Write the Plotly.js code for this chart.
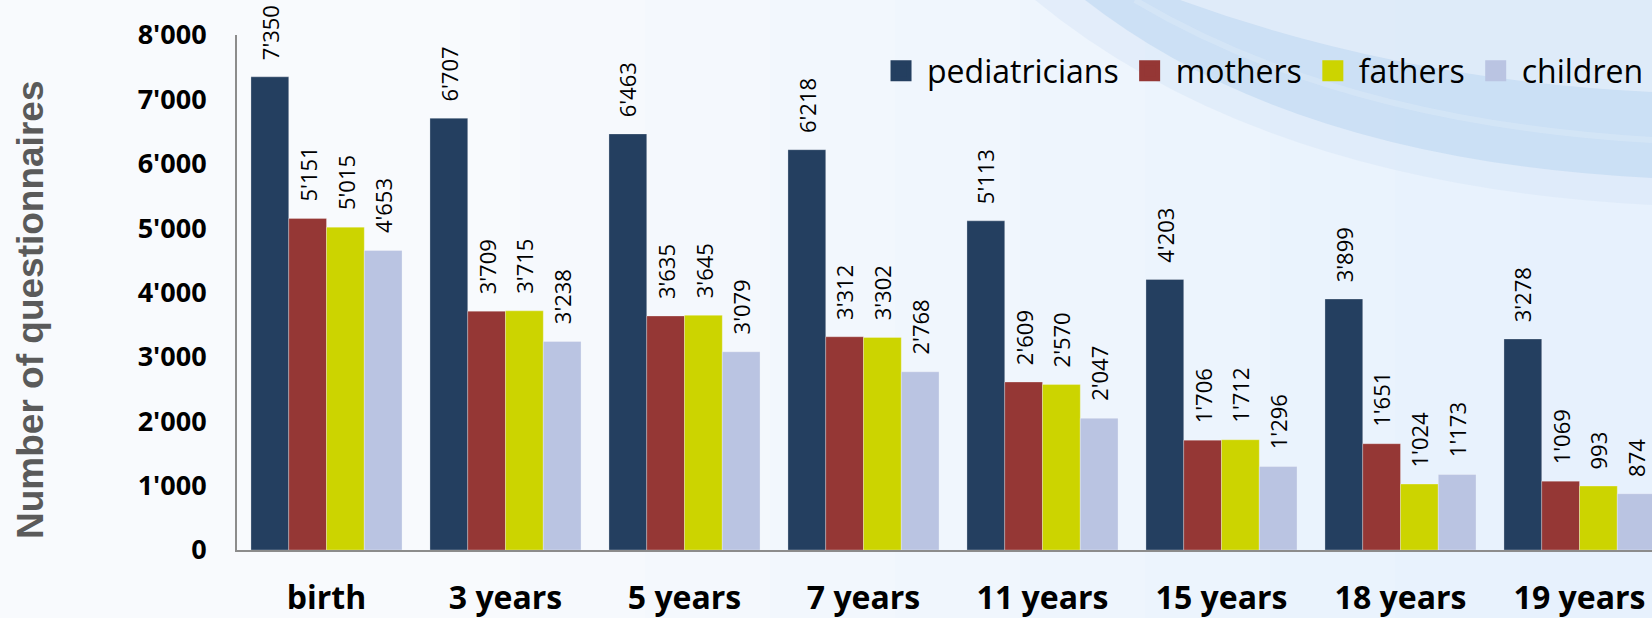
<!DOCTYPE html>
<html>
<head>
<meta charset="utf-8">
<script src="https://cdn.plot.ly/plotly-3.0.1.min.js"></script>
<style>
  html, body { margin: 0; padding: 0; background: #f8fafd; }
  #chart { width: 1652px; height: 618px; }
</style>
</head>
<body>
<div id="chart"></div>
<script>
// ---- Data ----
const categories = ["birth", "3 years", "5 years", "7 years", "11 years", "15 years", "18 years", "19 years"];
const seriesNames = ["pediatricians", "mothers", "fathers", "children"];
const pediatricians = [7350, 6707, 6463, 6218, 5113, 4203, 3899, 3278];
const mothers       = [5151, 3709, 3635, 3312, 2609, 1706, 1651, 1069];
const fathers       = [5015, 3715, 3645, 3302, 2570, 1712, 1024, 993];
const children      = [4653, 3238, 3079, 2768, 2047, 1296, 1173, 874];
const yTicks = [0, 1000, 2000, 3000, 4000, 5000, 6000, 7000, 8000];
const yTitle = "Number of questionnaires";

// ---- Styles ----
const colors = ["#243f60", "#953735", "#ccd400", "#bac4e2"];
const values = [pediatricians, mothers, fathers, children];

const W = 1652, H = 618;
const M = { l: 237, r: 0, t: 35, b: 68 };
const PW = W - M.l - M.r, PH = H - M.t - M.b;
const CAT_PX = 179;           // pixel width of one category slot
const BARGAP = 0.156;
const BAR_PX = CAT_PX * (1 - BARGAP) / 4;
const px = x => +((x - M.l) / PW).toFixed(4);
const py = y => +((H - M.b - y) / PH).toFixed(4);

const fmt = v => String(v).replace(/\B(?=(\d{3})+(?!\d))/g, "'");

const traces = [];
values.forEach((v, i) => {
  traces.push({
    type: "bar",
    name: seriesNames[i],
    x: categories,
    y: v,
    marker: { color: colors[i], line: { width: 0.8, color: "rgba(255,255,255,0.35)" } },
    showlegend: false,
    hoverinfo: "x+y+name"
  });
});
// legend entries (square markers)
values.forEach((v, i) => {
  traces.push({
    type: "scatter",
    mode: "markers",
    name: seriesNames[i],
    x: [null], y: [null],
    marker: { symbol: "square", size: 16, color: colors[i], line: { width: 5, color: colors[i] } },
    showlegend: true,
    hoverinfo: "skip"
  });
});

// value labels above bars
const annotations = [];
values.forEach((v, i) => {
  v.forEach((val, j) => {
    annotations.push({
      x: categories[j], y: val, xref: "x", yref: "y",
      text: fmt(val),
      textangle: -90,
      showarrow: false,
      xanchor: "center", yanchor: "bottom",
      xshift: (i - 1.5) * BAR_PX,
      yshift: 15,
      font: { family: "Open Sans", size: 22, color: "#000000" }
    });
  });
});
// y axis title
annotations.push({
  xref: "paper", yref: "paper",
  x: px(30), y: py(310),
  xanchor: "center", yanchor: "middle",
  text: yTitle, textangle: -90, showarrow: false,
  font: { family: "Liberation Sans", size: 37, color: "#5a5a5a", weight: "bold" }
});

const shapes = [];
// very soft left-to-right tint (many faint steps)
for (let k = 0; k < 9; k++) {
  shapes.push({ type: "rect", xref: "paper", yref: "paper", layer: "below", line: { width: 0 },
    x0: px(520 + k * 125), x1: px(1652), y0: py(618), y1: py(0),
    fillcolor: "rgba(220,232,246,0.045)" });
}
shapes.push(
  // outer halo of swoosh
  { type: "path", xref: "paper", yref: "paper", layer: "below", line: { width: 0 },
    fillcolor: "rgba(212,228,246,0.45)",
    path: `M ${px(1035)},${py(0)} Q ${px(1260)},${py(185)} ${px(1652)},${py(205)} L ${px(1652)},${py(0)} Z` },
  // main band
  { type: "path", xref: "paper", yref: "paper", layer: "below", line: { width: 0 },
    fillcolor: "rgba(196,219,243,0.72)",
    path: `M ${px(1085)},${py(0)} Q ${px(1290)},${py(160)} ${px(1652)},${py(178)} L ${px(1652)},${py(0)} Z` },
  // lighter top region
  { type: "path", xref: "paper", yref: "paper", layer: "below", line: { width: 0 },
    fillcolor: "rgba(226,236,249,0.85)",
    path: `M ${px(1180)},${py(0)} Q ${px(1400)},${py(80)} ${px(1652)},${py(92)} L ${px(1652)},${py(0)} Z` },
  // faint light stripe inside band
  { type: "path", xref: "paper", yref: "paper", layer: "below",
    line: { width: 6, color: "rgba(222,234,248,0.45)" },
    path: `M ${px(1135)},${py(0)} Q ${px(1340)},${py(122)} ${px(1652)},${py(140)}` }
);

const layout = {
  width: W, height: H,
  margin: M,
  paper_bgcolor: "#f8fafd",
  plot_bgcolor: "rgba(0,0,0,0)",
  separators: ".'",
  barmode: "group",
  bargap: BARGAP,
  bargroupgap: 0,
  showlegend: true,
  legend: {
    orientation: "h",
    x: px(875), xanchor: "left",
    y: py(71), yanchor: "middle",
    font: { family: "Open Sans", size: 32, color: "#000000" },
    bgcolor: "rgba(0,0,0,0)",
    itemsizing: "trace",
    itemwidth: 42,
    itemclick: false, itemdoubleclick: false
  },
  xaxis: {
    type: "category",
    range: [-0.5, -0.5 + PW / CAT_PX],
    showline: true, linecolor: "#8c8c8c", linewidth: 2,
    showgrid: false, zeroline: false,
    ticks: "",
    ticklabelstandoff: 19,
    tickfont: { family: "Open Sans", size: 32, color: "#000000", weight: "bold" },
    fixedrange: true
  },
  yaxis: {
    range: [0, 8000],
    tickvals: yTicks,
    tickformat: ",",
    showline: true, linecolor: "#8c8c8c", linewidth: 2,
    showgrid: false, zeroline: false,
    ticks: "",
    ticklabelstandoff: 23,
    tickfont: { family: "Open Sans", size: 27, color: "#000000", weight: "bold" },
    automargin: false,
    fixedrange: true
  },
  annotations: annotations,
  shapes: shapes
};

Plotly.newPlot("chart", traces, layout, { displayModeBar: false, staticPlot: true });
</script>
</body>
</html>
